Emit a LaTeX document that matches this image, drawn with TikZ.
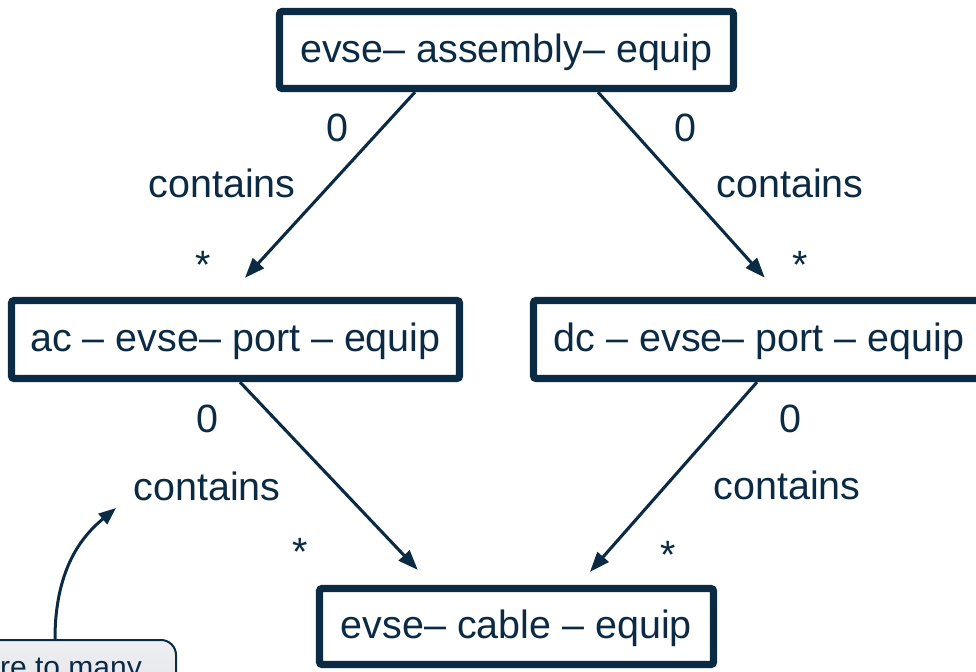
\documentclass[tikz,border=0pt]{standalone}
\usepackage{fontspec}
\setmainfont{Liberation Sans}
\usetikzlibrary{arrows.meta,calc}
\definecolor{navy}{HTML}{0B2A44}
\definecolor{notetop}{HTML}{EEEFF2}
\definecolor{notebot}{HTML}{E2E4E8}
\begin{document}
\begin{tikzpicture}[x=0.75pt,y=-0.75pt,
  bigfont/.style={font=\fontsize{29.6pt}{35pt}\selectfont},
  entity/.style={bigfont, draw=navy, line width=5.4pt, rounded corners=2pt,
    fill=white, text=navy, inner sep=0pt, text height=24pt, text depth=6pt},
  rel/.style={draw=navy, line width=2.3pt, -{Triangle[length=15pt,width=11pt]}},
  lbl/.style={bigfont, text=navy, inner sep=0pt, anchor=base},
  notebox/.style={draw=navy, line width=1.5pt, rounded corners=11.25pt,
    top color=notetop, bottom color=notebot, text=navy, inner sep=0pt,
    font=\fontsize{22.5pt}{27pt}\selectfont, text height=12pt, text depth=2pt}
]
\useasboundingbox (0,0) rectangle (976,672);
\clip (0,0) rectangle (976,672);
\fill[white] (0,0) rectangle (976,672);

% entity boxes
\node[entity, minimum width=340.5pt, minimum height=57.75pt] (top) at (506.5,50) {evse– assembly– equip};
\node[entity, minimum width=336pt, minimum height=58.5pt] (ac) at (235.5,339.5) {ac – evse– port – equip};
\node[entity, minimum width=338.25pt, minimum height=58.5pt] (dc) at (759,339.5) {dc – evse– port – equip};
\node[entity, minimum width=295.5pt, minimum height=57pt] (cable) at (516.5,626.5) {evse– cable – equip};

% containment relations
\draw[rel, shorten >=19.4pt] ($(top.south)+(-91.5,0)$) -- ($(ac.north)+(-8,0)$);
\draw[rel, shorten >=19.4pt] ($(top.south)+(91.5,0)$) -- ($(dc.north)+(23,0)$);
\draw[rel, shorten >=15.5pt] ($(ac.south)+(4.5,0)$) -- ($(cable.north)+(-84.5,0)$);
\draw[rel, shorten >=13pt] ($(dc.south)+(-2,0)$) -- ($(cable.north)+(62,0)$);

% multiplicities and role names
\node[lbl] (m1) at (337,141) {0};
\node[lbl] (r1) at (222,197) {contains};
\node[lbl] (s1) at (203,278) {*};
\node[lbl] (m2) at (685,141) {0};
\node[lbl] (r2) at (790,197) {contains};
\node[lbl] (s2) at (800,278) {*};
\node[lbl] (m3) at (207,432) {0};
\node[lbl] (r3) at (207,500) {contains};
\node[lbl] (s3) at (300,565) {*};
\node[lbl] (m4) at (790,432) {0};
\node[lbl] (r4) at (787,499) {contains};
\node[lbl] (s4) at (668,568) {*};

% note with its pointer
\node[notebox, minimum width=157.5pt, minimum height=46.5pt] (note) at (71,671) {re to many};
\coordinate (tip) at (116,508);
\draw[navy, line width=2.25pt, -{Triangle[length=13pt,width=10pt]}]
  ($(note.north)+(-16,0)$) .. controls +(0,-75) and +(-30,25) .. (tip);
\end{tikzpicture}
\end{document}
